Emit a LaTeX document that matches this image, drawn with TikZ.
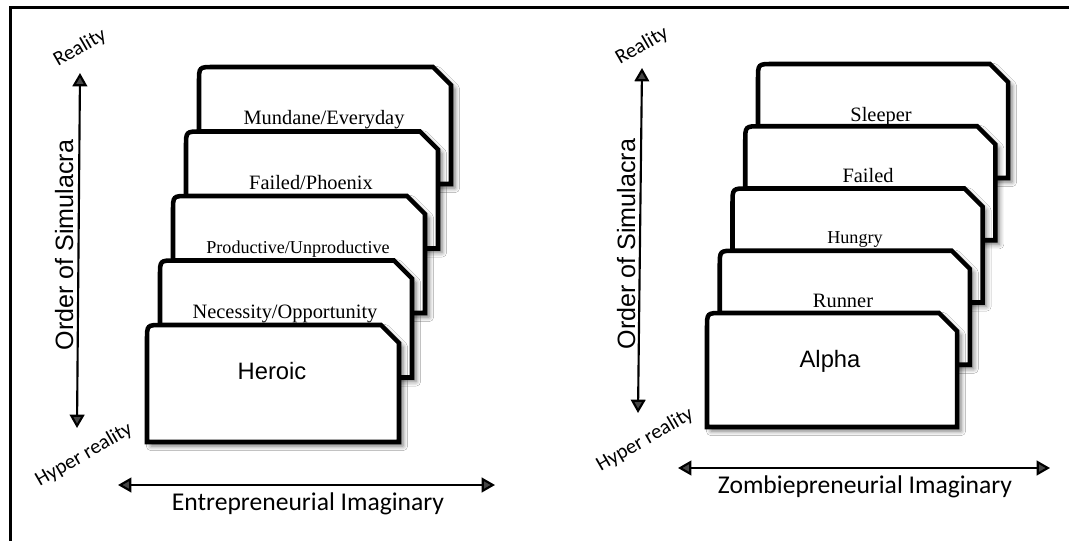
\documentclass[tikz,border=0pt]{standalone}
\usepackage{fontspec}
\setmainfont{Liberation Serif}
\newfontfamily\arialf{Liberation Sans}
\newfontfamily\calib{Carlito}
\usetikzlibrary{arrows.meta,shadows.blur}
\tikzset{
  cardbox/.style={fill=white,draw=black,line width=3.4pt,
    blur shadow={shadow xshift=3pt,shadow yshift=-3pt,shadow blur radius=3.5pt,shadow opacity=55}},
  axarrow/.style={line width=1.6pt,{Triangle[length=10pt,width=11pt]}-{Triangle[length=10pt,width=11pt]}},
  lbl/.style={font=\fontsize{15.3}{18}\selectfont,anchor=base,inner sep=0pt},
  lblsmall/.style={font=\fontsize{13.6}{16}\selectfont,anchor=base,inner sep=0pt},
  lblsans/.style={font=\arialf\fontsize{17.8}{21}\selectfont,anchor=base,inner sep=0pt},
  vlbl/.style={font=\arialf\fontsize{18.8}{22}\selectfont,rotate=90,anchor=base,inner sep=0pt},
  hlbl/.style={font=\calib\fontsize{19.2}{23}\selectfont,anchor=base,inner sep=0pt},
  diag/.style={font=\calib\fontsize{15.5}{18}\selectfont,rotate=30,inner sep=0pt},
}
% #1 x, #2 y (top-left), #3 width, #4 height
\newcommand\drawcard[4]{%
  \path[cardbox] (#1,#2+#4) -- (#1,#2+15) .. controls (#1,#2) .. (#1+15,#2)
    -- (#1+#3-18,#2) -- (#1+#3,#2+18) -- (#1+#3,#2+#4) -- cycle;}
\begin{document}
\begin{tikzpicture}[x=0.75pt,y=-0.75pt]
\useasboundingbox (0,0) rectangle (1069,541);
\fill[white] (0,0) rectangle (1069,541);
% frame
\coordinate (fbl) at (10,541);
\coordinate (ftl) at (10,8);
\coordinate (ftr) at (1069,8);
\draw[line width=2.25pt] (fbl) -- (ftl) -- (ftr);

% ---------- left panel ----------
\drawcard{199}{67}{252}{117}
\node[lbl] (mundane) at (324,125) {Mundane/Everyday};
\drawcard{186}{131.5}{252}{117}
\node[lbl] (phoenix) at (311,189.5) {Failed/Phoenix};
\drawcard{173}{196}{252}{117}
\node[lblsmall] (product) at (298,253) {Productive/Unproductive};
\drawcard{160}{260.5}{252}{117}
\node[lbl] (necess) at (285,318) {Necessity/Opportunity};
\drawcard{147}{325}{252}{117}
\node[lblsans] (heroic) at (272,379) {Heroic};

\coordinate (lvt) at (80,73);
\coordinate (lvb) at (77,428);
\draw[axarrow] (lvt) -- (lvb);
\node[vlbl] (lorder) at (73,245) {Order of Simulacra};
\node[diag] (lreal) at (80,48) {Reality};
\node[diag] (lhyper) at (84,455) {Hyper reality};
\coordinate (lhl) at (118,485);
\coordinate (lhr) at (495,485);
\draw[axarrow] (lhl) -- (lhr);
\node[hlbl] (lent) at (308,510.5) {Entrepreneurial Imaginary};

% ---------- right panel ----------
\drawcard{758}{64}{250}{114}
\node[lbl] (sleeper) at (881,122) {Sleeper};
\drawcard{745.25}{126.25}{250}{114}
\node[lbl] (failed) at (868,183) {Failed};
\drawcard{732.5}{188.5}{250}{114}
\node[lblsmall] (hungry) at (855,244) {Hungry};
\drawcard{719.75}{250.75}{250}{114}
\node[lbl] (runner) at (843,307) {Runner};
\drawcard{707}{313}{250}{114}
\node[lblsans] (alpha) at (830,367) {Alpha};

\coordinate (rvt) at (642,68);
\coordinate (rvb) at (638,413);
\draw[axarrow] (rvt) -- (rvb);
\node[vlbl] (rorder) at (635,244) {Order of Simulacra};
\node[diag] (rreal) at (642,46) {Reality};
\node[diag] (rhyper) at (645,440) {Hyper reality};
\coordinate (rhl) at (678,468);
\coordinate (rhr) at (1050,468);
\draw[axarrow] (rhl) -- (rhr);
\node[hlbl] (rzom) at (865,493) {Zombiepreneurial Imaginary};
\end{tikzpicture}
\end{document}
